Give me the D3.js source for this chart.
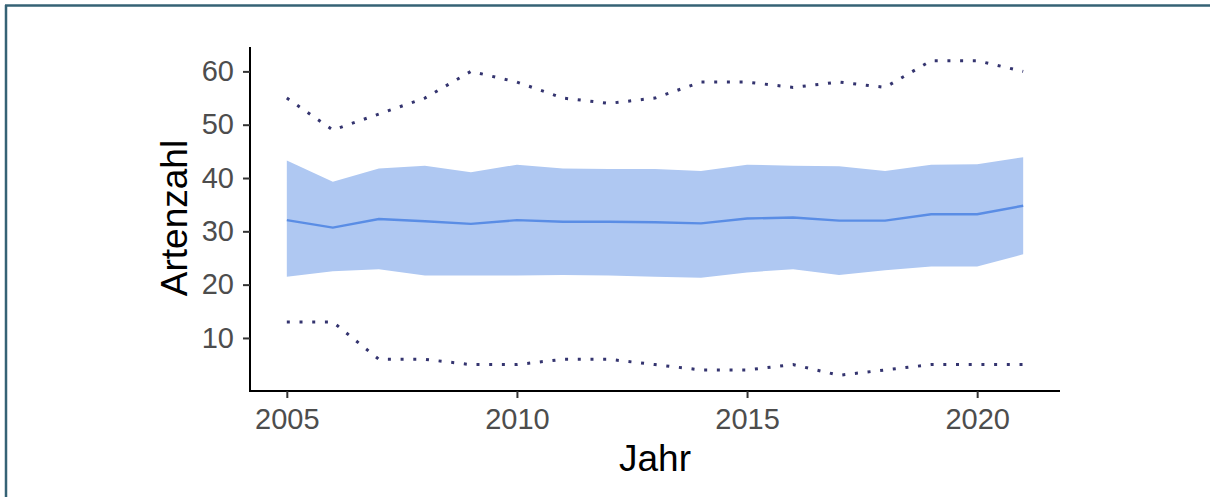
<!DOCTYPE html>
<html>
<head>
<meta charset="utf-8">
<script src="https://cdn.jsdelivr.net/npm/d3@7"></script>
<style>
  body { margin: 0; background: #fff; }
  svg { display: block; }
  text { font-family: "Liberation Sans", Arial, sans-serif; }
</style>
</head>
<body>
<div id="chart"></div>
<script>
// data
var years = [2005, 2006, 2007, 2008, 2009, 2010, 2011, 2012, 2013, 2014, 2015, 2016, 2017, 2018, 2019, 2020, 2021];
var meanVals  = [32.1, 30.7, 32.3, 31.9, 31.4, 32.1, 31.8, 31.8, 31.7, 31.5, 32.4, 32.6, 32.0, 32.0, 33.2, 33.2, 34.8];
var upperBand = [43.3, 39.3, 41.8, 42.3, 41.1, 42.5, 41.8, 41.7, 41.7, 41.3, 42.5, 42.3, 42.2, 41.3, 42.5, 42.6, 43.9];
var lowerBand = [21.5, 22.5, 22.9, 21.7, 21.7, 21.7, 21.8, 21.7, 21.5, 21.3, 22.3, 22.9, 21.8, 22.7, 23.4, 23.4, 25.7];
var maxVals   = [55, 49, 52, 55, 60, 58, 55, 54, 55, 58, 58, 57, 58, 57, 62, 62, 60];
var minVals   = [13, 13, 6, 6, 5, 5, 6, 6, 5, 4, 4, 5, 3, 4, 5, 5, 5];
var xTicks = [2005, 2010, 2015, 2020];
var yTicks = [10, 20, 30, 40, 50, 60];

var width = 1210, height = 497;
var panelLeft = 250, panelRight = 1060, panelTop = 45, panelBottom = 391;

var svg = d3.select("#chart").append("svg")
    .attr("width", width)
    .attr("height", height);

// frame around the picture
svg.append("line").attr("x1", 5).attr("x2", width).attr("y1", 5.5).attr("y2", 5.5)
    .attr("stroke", "#356275").attr("stroke-width", 2.5);
svg.append("line").attr("x1", 6).attr("x2", 6).attr("y1", 5).attr("y2", height)
    .attr("stroke", "#356275").attr("stroke-width", 2.5);

// ggplot style 5% expansion
var xExt = d3.extent(years), xPad = (xExt[1] - xExt[0]) * 0.05;
var x = d3.scaleLinear()
    .domain([xExt[0] - xPad, xExt[1] + xPad])
    .range([panelLeft, panelRight]);

var yExt = [d3.min(minVals), d3.max(maxVals)], yPad = (yExt[1] - yExt[0]) * 0.05;
var y = d3.scaleLinear()
    .domain([yExt[0] - yPad, yExt[1] + yPad])
    .range([panelBottom, panelTop]);

var rows = years.map(function(yr, i) {
    return { year: yr, mean: meanVals[i], lo: lowerBand[i], hi: upperBand[i], min: minVals[i], max: maxVals[i] };
});

var area = d3.area()
    .x(function(d) { return x(d.year); })
    .y0(function(d) { return y(d.lo); })
    .y1(function(d) { return y(d.hi); });

svg.append("path")
    .datum(rows)
    .attr("d", area)
    .attr("fill", "#afc8f2");

var lineOf = function(key) {
    return d3.line()
        .x(function(d) { return x(d.year); })
        .y(function(d) { return y(d[key]); });
};

svg.append("path")
    .datum(rows)
    .attr("d", lineOf("mean"))
    .attr("fill", "none")
    .attr("stroke", "#5a8de5")
    .attr("stroke-width", 2.4);

["max", "min"].forEach(function(k) {
    svg.append("path")
        .datum(rows)
        .attr("d", lineOf(k))
        .attr("fill", "none")
        .attr("stroke", "#34346f")
        .attr("stroke-width", 3)
        .attr("stroke-dasharray", "3 9.7");
});

// axes
var xAxis = svg.append("g")
    .attr("transform", "translate(0," + panelBottom + ")")
    .call(d3.axisBottom(x).tickValues(xTicks).tickFormat(d3.format("d")).tickSize(7).tickPadding(10).tickSizeOuter(0));

var yAxis = svg.append("g")
    .attr("transform", "translate(" + panelLeft + ",0)")
    .call(d3.axisLeft(y).tickValues(yTicks).tickSize(7).tickPadding(9).tickSizeOuter(0));

[xAxis, yAxis].forEach(function(g) {
    g.select(".domain").attr("stroke", "#000").attr("stroke-width", 2);
    g.selectAll(".tick line").attr("stroke", "#333").attr("stroke-width", 2);
    g.selectAll(".tick text")
        .attr("fill", "#4d4d4d")
        .style("font-size", "29px")
        .style("font-family", "'Liberation Sans', Arial, sans-serif");
});
// extend the axis lines to the corner
xAxis.select(".domain").attr("d", "M" + (panelLeft - 1) + ",0H" + panelRight);
yAxis.select(".domain").attr("d", "M0," + (panelTop + 2) + "V" + (panelBottom + 1));

// titles
svg.append("text")
    .attr("x", (panelLeft + panelRight) / 2)
    .attr("y", 471)
    .attr("text-anchor", "middle")
    .style("font-size", "37px")
    .attr("fill", "#000")
    .text("Jahr");

svg.append("text")
    .attr("transform", "translate(187," + 218 + ")rotate(-90)")
    .attr("text-anchor", "middle")
    .style("font-size", "37px")
    .attr("fill", "#000")
    .text("Artenzahl");
</script>
</body>
</html>
